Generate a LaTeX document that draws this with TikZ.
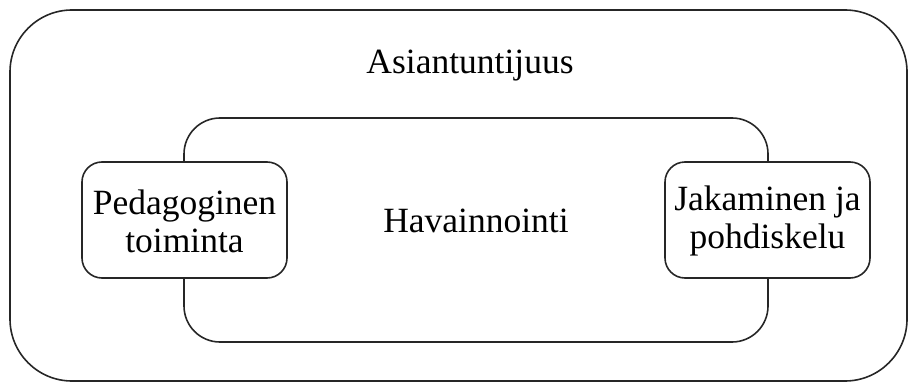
\documentclass[tikz,border=0pt]{standalone}
\usepackage{fontspec}
\setmainfont{Liberation Serif}
\begin{document}
\begin{tikzpicture}[x=1pt,y=-1pt,
  frame/.style={draw=black!85, line width=1.6pt},
  label/.style={font=\fontsize{35.5}{38}\selectfont, align=center, inner sep=0pt},
  sidebox/.style={frame, fill=white, rounded corners=20pt}]
  \useasboundingbox (0,0) rectangle (917,385);
  % outer frame
  \draw[frame, rounded corners=62pt] (10,10) rectangle (907,381);
  \node[label] (expertise) at (470,66) {Asiantuntijuus};
  % inner frame
  \draw[frame, rounded corners=36pt] (184,118) rectangle (768,342);
  \node[label] (observe) at (476,221) {Havainnointi};
  % side boxes
  \draw[sidebox] (82,162) rectangle (287,278);
  \node[label] (pedagogy) at (184.5,221) {Pedagoginen\\toiminta};
  \draw[sidebox] (665,162) rectangle (870,278);
  \node[label] (sharing) at (767.5,221) {Jakaminen ja\\pohdiskelu};
\end{tikzpicture}
\end{document}
